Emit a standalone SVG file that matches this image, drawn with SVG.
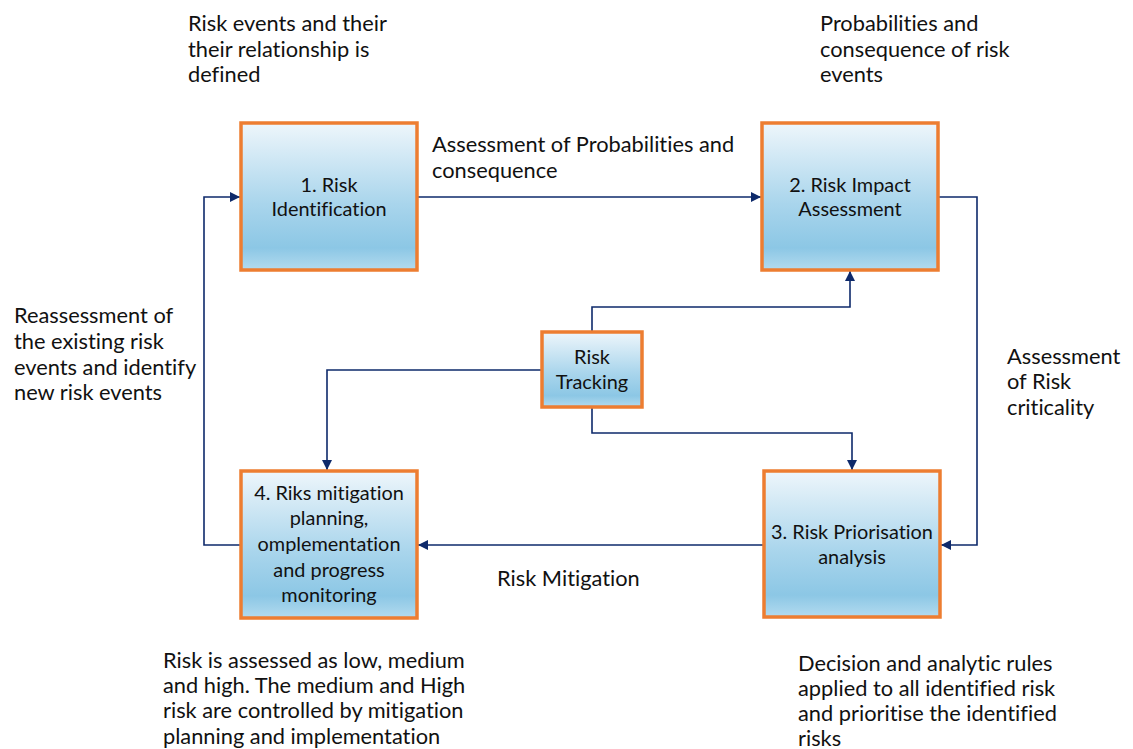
<svg xmlns="http://www.w3.org/2000/svg" width="1133" height="749" viewBox="0 0 1133 749">
  <defs>
    <linearGradient id="boxFill" x1="0" y1="0" x2="0" y2="1">
      <stop offset="0" stop-color="#eef6fb"/>
      <stop offset="0.55" stop-color="#a9d5ec"/>
      <stop offset="0.85" stop-color="#8cc7e5"/>
      <stop offset="1" stop-color="#b3dbef"/>
    </linearGradient>
    <marker id="arrow" viewBox="0 0 10 10" refX="10" refY="5" markerWidth="10" markerHeight="10" markerUnits="userSpaceOnUse" orient="auto">
      <path d="M0,0 L10,5 L0,10 Z" fill="#0e2a6b"/>
    </marker>
  </defs>
  <style>
    text { font-family: Lato, "Open Sans", sans-serif; font-size: 21.8px; fill: #111; font-variant-ligatures: none; }
    .node rect { fill: url(#boxFill); stroke: #ed7d31; stroke-width: 3.5; }
    .node text { text-anchor: middle; font-size: 19.9px; }
    .conn path { fill: none; stroke: #0e2a6b; stroke-width: 1.6; marker-end: url(#arrow); }
  </style>

  <rect width="1133" height="749" fill="#ffffff"/>

  <!-- connectors -->
  <g class="conn">
    <path d="M417,197 H761"/>
    <path d="M938,197 H977 V545 H941"/>
    <path d="M764,545 H418"/>
    <path d="M241,545 H204 V197 H240"/>
    <path d="M592,332 V307 H850 V271"/>
    <path d="M542,370 H327 V470"/>
    <path d="M592,407 V433 H852 V470"/>
  </g>

  <!-- process nodes -->
  <g id="n1" class="node">
    <rect x="241" y="123" width="176" height="147"/>
    <text x="329" y="192">1. Risk</text>
    <text x="329" y="216">Identification</text>
  </g>
  <g id="n2" class="node">
    <rect x="762" y="123" width="176" height="147"/>
    <text x="850" y="192">2. Risk Impact</text>
    <text x="850" y="216">Assessment</text>
  </g>
  <g id="n3" class="node">
    <rect x="764" y="471" width="176" height="146"/>
    <text x="852" y="539">3. Risk Priorisation</text>
    <text x="852" y="564">analysis</text>
  </g>
  <g id="n4" class="node">
    <rect x="241" y="471" width="176" height="147"/>
    <text x="329" y="500">4. Riks mitigation</text>
    <text x="329" y="525">planning,</text>
    <text x="329" y="551">omplementation</text>
    <text x="329" y="577">and progress</text>
    <text x="329" y="602">monitoring</text>
  </g>
  <g id="tracking" class="node">
    <rect x="542" y="332" width="100" height="75"/>
    <text x="592" y="364">Risk</text>
    <text x="592" y="389">Tracking</text>
  </g>

  <!-- annotations -->
  <g id="notes">
    <text x="188" y="31">Risk events and their</text>
    <text x="188" y="57">their relationship is</text>
    <text x="188" y="82">defined</text>

    <text x="820" y="31">Probabilities and</text>
    <text x="820" y="57">consequence of risk</text>
    <text x="820" y="82">events</text>

    <text x="432" y="152">Assessment of Probabilities and</text>
    <text x="432" y="178">consequence</text>

    <text x="14" y="323">Reassessment of</text>
    <text x="14" y="349">the existing risk</text>
    <text x="14" y="375">events and identify</text>
    <text x="14" y="400">new risk events</text>

    <text x="1007" y="364">Assessment</text>
    <text x="1007" y="389">of Risk</text>
    <text x="1007" y="415">criticality</text>

    <text x="497" y="586">Risk Mitigation</text>

    <text x="163" y="668">Risk is assessed as low, medium</text>
    <text x="163" y="693">and high. The medium and High</text>
    <text x="163" y="718">risk are controlled by mitigation</text>
    <text x="163" y="744">planning and implementation</text>

    <text x="798" y="671">Decision and analytic rules</text>
    <text x="798" y="696">applied to all identified risk</text>
    <text x="798" y="721">and prioritise the identified</text>
    <text x="798" y="746">risks</text>
  </g>
</svg>
